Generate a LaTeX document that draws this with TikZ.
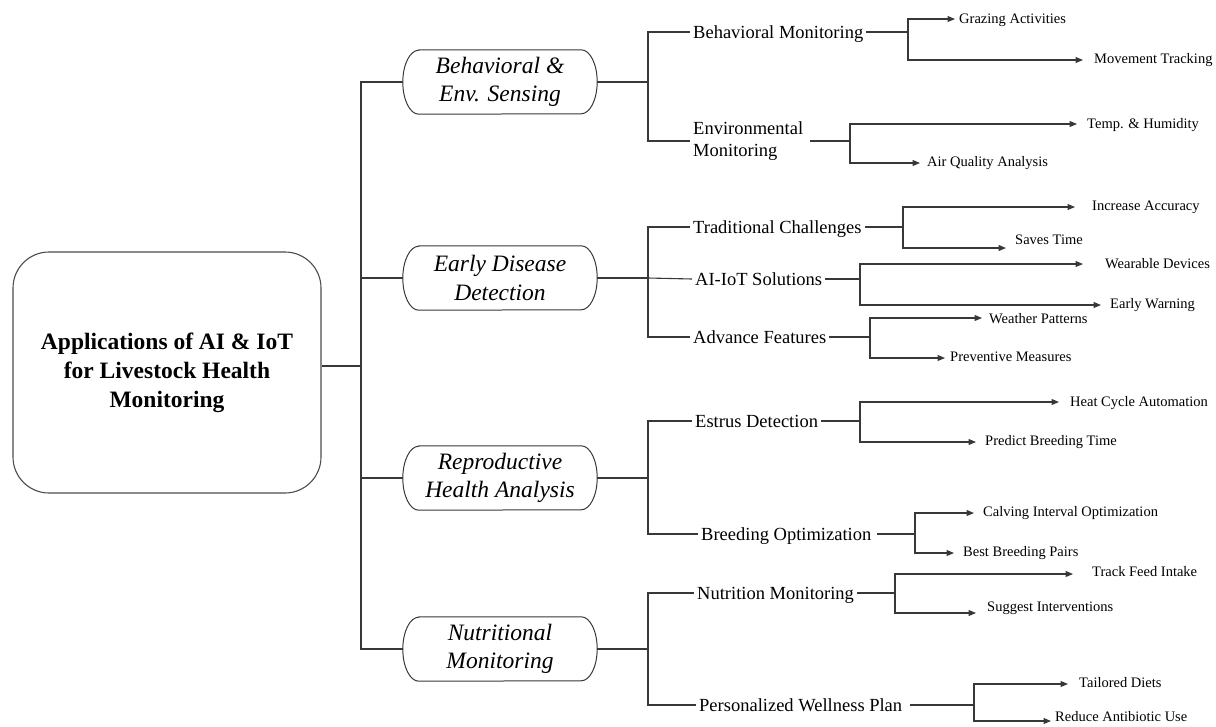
\documentclass[tikz,border=0pt]{standalone}
\usepackage{fontspec}
\setmainfont{Liberation Serif}[
  BoldFont={Liberation Serif Bold},
  ItalicFont={Liberation Serif Italic},
  BoldItalicFont={Liberation Serif Bold Italic}]
\usetikzlibrary{arrows.meta}

\begin{document}
\begin{tikzpicture}[x=1pt,y=-1pt,
  edge/.style={draw=black!78, line width=1.1pt},
  arr/.style={edge, -{Triangle[length=7.5pt,width=6pt]}},
  rootbox/.style={draw=black!70, line width=1.1pt, rounded corners=36pt,
    minimum width=308pt, minimum height=241pt, inner sep=0pt, align=center,
    font=\fontsize{23.5}{29}\selectfont\bfseries},
  lone/.style={draw=none, minimum width=194pt, minimum height=64pt, inner sep=0pt,
    align=center, font=\fontsize{23.5}{28.5}\selectfont\itshape},
  ltwo/.style={anchor=west, inner xsep=3pt, inner ysep=0pt,
    font=\fontsize{18.5}{22}\selectfont, text height=12.2pt, text depth=0pt},
  ltwom/.style={anchor=west, inner xsep=3pt, inner ysep=0pt, align=left,
    font=\fontsize{18.5}{22}\selectfont},
  leaf/.style={anchor=west, inner sep=0pt,
    font=\fontsize{14.5}{17}\selectfont, text height=9.6pt, text depth=0pt}]

\useasboundingbox (0,0) rectangle (1216,726);

% ---------- root ----------
\node[rootbox] (root) at (167,372.5) {Applications of AI \& IoT\\for Livestock Health\\Monitoring};
\coordinate (tr) at (361,366);
\draw[edge] (tr -| root.east) -- (tr);

% ---------- first level (terminator shapes) ----------
\node[lone] (l1) at (500,82)  {Behavioral \&\\Env. Sensing};
\node[lone] (l2) at (500,278) {Early Disease\\Detection};
\node[lone] (l3) at (500,478) {Reproductive\\Health Analysis};
\node[lone] (l4) at (500,649) {Nutritional\\Monitoring};
\foreach \n in {l1,l2,l3,l4}{
  \draw[edge, line width=1pt]
    ([xshift=16pt]\n.north west) -- ([xshift=-16pt]\n.north east)
    arc[start angle=90, end angle=-90, x radius=16pt, y radius=32pt]
    -- ([xshift=16pt]\n.south west)
    arc[start angle=270, end angle=90, x radius=16pt, y radius=32pt] -- cycle;
  \draw[edge] (tr) |- (\n.west);
}

% branch points of the first level
\coordinate (c1) at (648,82);
\coordinate (c2) at (648,278);
\coordinate (c3) at (648,478);
\coordinate (c4) at (648,649);
\draw[edge] (l1.east) -- (c1);
\draw[edge] (l2.east) -- (c2);
\draw[edge] (l3.east) -- (c3);
\draw[edge] (l4.east) -- (c4);

% ---------- Behavioral & Env. Sensing ----------
\node[ltwo] (bm) at (690,32) {Behavioral Monitoring};
\node[ltwom] (em) at (690,141) {Environmental\\Monitoring};
\draw[edge] (c1) |- (bm.west);
\draw[edge] (c1) |- (em.west);

\coordinate (bmB) at (908,32);
\node[leaf] (ga) at (959,19) {Grazing Activities};
\node[leaf] (mt) at (1094,59) {Movement Tracking};
\coordinate (gaT) at (955,19);
\coordinate (mtT) at (1083,60);
\draw[edge] (bm.east) -- (bmB);
\draw[arr] (bmB) |- (gaT);
\draw[arr] (bmB) |- (mtT);

\coordinate (emB) at (850,141);
\node[leaf] (th) at (1087,124) {Temp. \& Humidity};
\node[leaf] (aq) at (927,162) {Air Quality Analysis};
\coordinate (thT) at (1077,124);
\coordinate (aqT) at (920,163);
\draw[edge] ([xshift=4pt]em.east) -- (emB);
\draw[arr] (emB) |- (thT);
\draw[arr] (emB) |- (aqT);

% ---------- Early Disease Detection ----------
\node[ltwo] (tc) at (690,227) {Traditional Challenges};
\node[ltwo] (ai) at (692,279) {AI-IoT Solutions};
\node[ltwo] (af) at (690,337) {Advance Features};
\draw[edge] (c2) |- (tc.west);
\draw[edge] (c2) -- (ai.west);
\draw[edge] (c2) |- (af.west);

\coordinate (tcB) at (903,227);
\node[leaf] (ia) at (1092,206) {Increase Accuracy};
\node[leaf] (st) at (1015,240) {Saves Time};
\coordinate (iaT) at (1075,207);
\coordinate (stT) at (1006,248);
\draw[edge] (tc.east) -- (tcB);
\draw[arr] (tcB) |- (iaT);
\draw[arr] (tcB) |- (stT);

\coordinate (aiB) at (860,279);
\node[leaf] (wd) at (1105,264) {Wearable Devices};
\node[leaf] (ew) at (1110,304) {Early Warning};
\coordinate (wdT) at (1083,264);
\coordinate (ewT) at (1101,305);
\draw[edge] (ai.east) -- (aiB);
\draw[arr] (aiB) |- (wdT);
\draw[arr] (aiB) |- (ewT);

\coordinate (afB) at (870,337);
\node[leaf] (wp) at (989,319) {Weather Patterns};
\node[leaf] (pm) at (950,357) {Preventive Measures};
\coordinate (wpT) at (982,318);
\coordinate (pmT) at (945,358);
\draw[edge] (af.east) -- (afB);
\draw[arr] (afB) |- (wpT);
\draw[arr] (afB) |- (pmT);

% ---------- Reproductive Health Analysis ----------
\node[ltwo] (ed) at (692,421) {Estrus Detection};
\node[ltwo] (bo) at (698,534) {Breeding Optimization};
\draw[edge] (c3) |- (ed.west);
\draw[edge] (c3) |- (bo.west);

\coordinate (edB) at (860,421);
\node[leaf] (hc) at (1070,402) {Heat Cycle Automation};
\node[leaf] (pb) at (985,441) {Predict Breeding Time};
\coordinate (hcT) at (1059,402);
\coordinate (pbT) at (976,442);
\draw[edge] (ed.east) -- (edB);
\draw[arr] (edB) |- (hcT);
\draw[arr] (edB) |- (pbT);

\coordinate (boB) at (915,534);
\node[leaf] (ci) at (983,512) {Calving Interval Optimization};
\node[leaf] (bp) at (963,552) {Best Breeding Pairs};
\coordinate (ciT) at (974,513);
\coordinate (bpT) at (954,553);
\draw[edge] ([xshift=3pt]bo.east) -- (boB);
\draw[arr] (boB) |- (ciT);
\draw[arr] (boB) |- (bpT);

% ---------- Nutritional Monitoring ----------
\node[ltwo] (nm) at (694,593) {Nutrition Monitoring};
\node[ltwo] (pw) at (696,705) {Personalized Wellness Plan};
\draw[edge] (c4) |- (nm.west);
\draw[edge] (c4) |- (pw.west);

\coordinate (nmB) at (895,593);
\node[leaf] (tf) at (1092,572) {Track Feed Intake};
\node[leaf] (si) at (987,607) {Suggest Interventions};
\coordinate (tfT) at (1073,574);
\coordinate (siT) at (976,613);
\draw[edge] (nm.east) -- (nmB);
\draw[arr] (nmB) |- (tfT);
\draw[arr] (nmB) |- (siT);

\coordinate (pwB) at (974,705);
\node[leaf] (td) at (1079,683) {Tailored Diets};
\node[leaf] (ra) at (1055,717) {Reduce Antibiotic Use};
\coordinate (tdT) at (1068,684);
\coordinate (raT) at (1051,721);
\draw[edge] ([xshift=5pt]pw.east) -- (pwB);
\draw[arr] (pwB) |- (tdT);
\draw[arr] (pwB) |- (raT);

\end{tikzpicture}
\end{document}
